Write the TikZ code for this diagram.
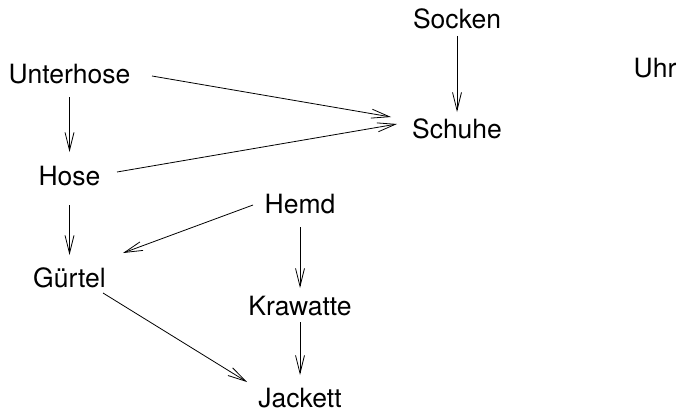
\documentclass[tikz,border=0pt]{standalone}
\usepackage{fontspec}
\setmainfont{TeX Gyre Heros}
\usetikzlibrary{arrows.meta}
\begin{document}
\begin{tikzpicture}[x=1pt,y=-1pt,
  item/.style={inner sep=0pt,anchor=base,font=\fontsize{26.5}{32}\selectfont},
  dep/.style={draw,line width=0.8pt,-{Straight Barb[length=18pt,width=9pt,line width=0.8pt]}}]
  \useasboundingbox (0,0) rectangle (679,412);
  % garments, placed by their baselines
  \node[item] (socken)    at (457,29)   {Socken};
  \node[item] (uhr)       at (655,77)   {Uhr};
  \node[item] (unterhose) at (69.5,83)  {Unterhose};
  \node[item] (schuhe)    at (457,138)  {Schuhe};
  \node[item] (hose)      at (69.5,185) {Hose};
  \node[item] (hemd)      at (300,213)  {Hemd};
  \node[item] (guertel)   at (69.5,287) {Gürtel};
  \node[item] (krawatte)  at (300,315)  {Krawatte};
  \node[item] (jackett)   at (300,407)  {Jackett};
  % dependencies
  \draw[dep] ([shift={(0,7)}]socken.base) -- ([shift={(0,-26)}]schuhe.base);
  \draw[dep] ([shift={(82.5,-7)}]unterhose.base) -- ([shift={(-66,-21)}]schuhe.base);
  \draw[dep] ([shift={(47.5,-13)}]hose.base) -- ([shift={(-60,-14)}]schuhe.base);
  \draw[dep] ([shift={(0,14)}]unterhose.base) -- ([shift={(0,-33)}]hose.base);
  \draw[dep] ([shift={(0,20)}]hose.base) -- ([shift={(0,-32)}]guertel.base);
  \draw[dep] ([shift={(-47,-8)}]hemd.base) -- ([shift={(53.5,-34)}]guertel.base);
  \draw[dep] ([shift={(33.5,6)}]guertel.base) -- ([shift={(-53,-25)}]jackett.base);
  \draw[dep] ([shift={(0,14)}]hemd.base) -- ([shift={(0,-27)}]krawatte.base);
  \draw[dep] ([shift={(0,7)}]krawatte.base) -- ([shift={(0,-32)}]jackett.base);
\end{tikzpicture}
\end{document}
